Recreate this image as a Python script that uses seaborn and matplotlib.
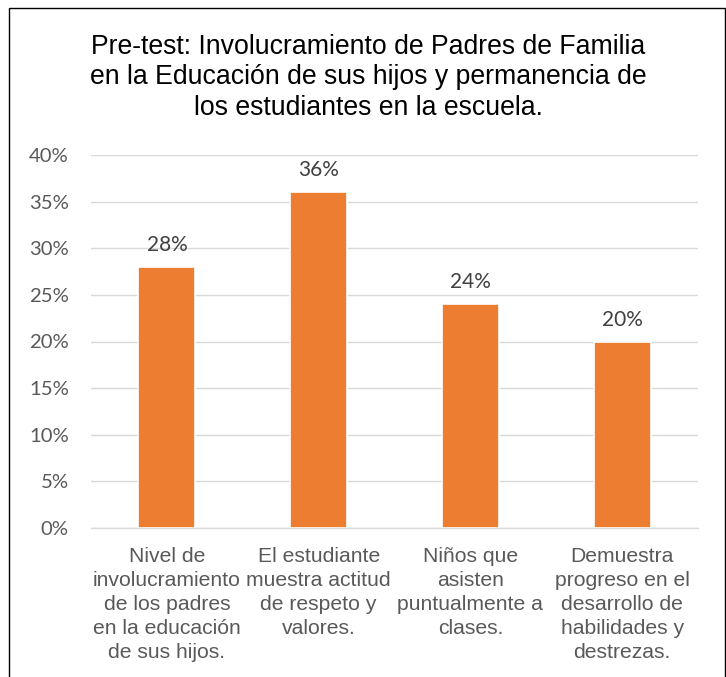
import numpy as np
import pandas as pd
import matplotlib.pyplot as plt
import seaborn as sns
from matplotlib.patches import Rectangle
from matplotlib.ticker import FixedLocator, PercentFormatter

sns.set_theme(style="white")

# %%
title = ("Pre-test: Involucramiento de Padres de Familia\n"
         "en la Educación de sus hijos y permanencia de\n"
         "los estudiantes en la escuela.")
categories = [
    "Nivel de\ninvolucramiento\nde los padres\nen la educación\nde sus hijos.",
    "El estudiante\nmuestra actitud\nde respeto y\nvalores.",
    "Niños que\nasisten\npuntualmente a\nclases.",
    "Demuestra\nprogreso en el\ndesarrollo de\nhabilidades y\ndestrezas.",
]
values = [0.28, 0.36, 0.24, 0.20]
value_labels = ["28%", "36%", "24%", "20%"]
y_ticks = [0.0, 0.05, 0.10, 0.15, 0.20, 0.25, 0.30, 0.35, 0.40]

df = pd.DataFrame({"categoria": categories, "valor": values})

# %%
fig = plt.figure(figsize=(7.26, 6.77), dpi=100)
ax = fig.add_axes([91 / 726, 1 - 528 / 677, (698 - 91) / 726, (528 - 155) / 677])

sns.barplot(data=df, x="categoria", y="valor", color="#ED7D31", saturation=1,
            width=0.376, edgecolor="white", linewidth=1.2, zorder=3, ax=ax)

ax.set_xlim(-0.5, 3.5)
ax.set_ylim(0, 0.40)
ax.set_yticks(y_ticks)
ax.yaxis.set_major_formatter(PercentFormatter(1.0, decimals=0))
ax.grid(axis="y", color="#D9D9D9", linewidth=1.0, zorder=0)
ax.set_axisbelow(True)

for s in ["left", "top", "right"]:
    ax.spines[s].set_visible(False)
ax.spines["bottom"].set_color("#D9D9D9")
ax.spines["bottom"].set_linewidth(1.0)

ax.set_xlabel("")
ax.set_ylabel("")
ax.set_xticks(range(len(categories)))
ax.set_xticklabels(categories, fontsize=15.2, color="#595959",
                   family="Liberation Sans", linespacing=1.34)
ax.xaxis.set_minor_locator(FixedLocator([-0.5, 0.5, 1.5, 2.5, 3.5]))
ax.tick_params(axis="x", which="major", length=0, pad=13.5)
ax.tick_params(axis="x", which="minor", length=4, width=1.0, color="#D9D9D9",
               direction="out")
ax.tick_params(axis="y", length=0, pad=16, labelsize=14.6, labelcolor="#595959")
for lbl in ax.get_yticklabels():
    lbl.set_family("Lato")

ax.bar_label(ax.containers[0], labels=value_labels, padding=8.5,
             fontsize=15, color="#404040", family="Lato")

# title: last line baseline
fig.text(368.6 / 726, 1 - 115 / 677, title, ha="center", va="baseline",
         ma="center", fontsize=19.2, color="black", family="Liberation Sans",
         linespacing=1.23)

# chart border
fig.patches.append(Rectangle((9 / 726, -0.1), (725 - 9) / 726, 1.1 - 7.5 / 677,
                             transform=fig.transFigure, fill=False,
                             edgecolor="black", linewidth=1.0))

fig.savefig("out.png", dpi=100)
